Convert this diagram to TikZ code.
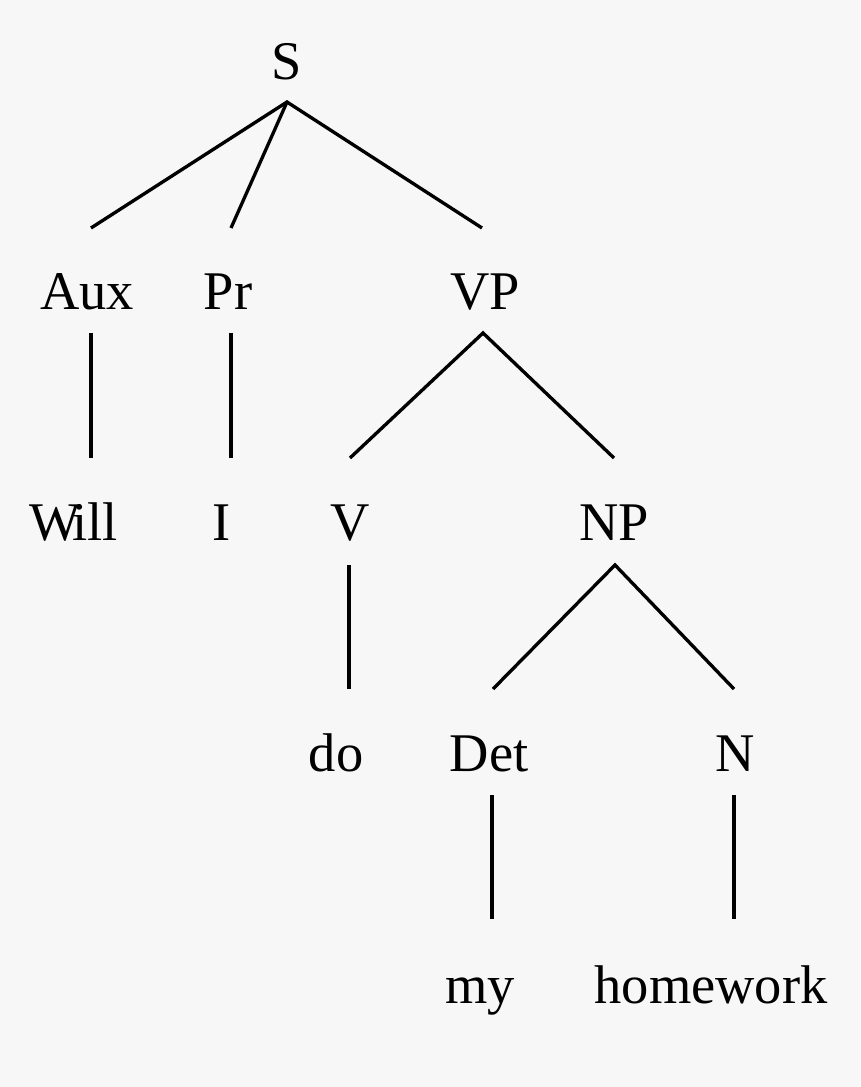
\documentclass[tikz,border=0pt]{standalone}
\usepackage{fontspec}
\setmainfont{Liberation Serif}
\definecolor{bggray}{HTML}{F7F7F7}
\begin{document}
\begin{tikzpicture}[
  x=0.02cm, y=-0.02cm,
  word/.style={inner sep=0pt, font=\fontsize{31}{36}\selectfont, anchor=base},
  branch/.style={line width=1.9pt}
]
\fill[bggray] (0,0) rectangle (860,1087);
\useasboundingbox (0,0) rectangle (860,1087);
% labels
\node[word] (S) at (287,80) {S};
\node[word] (aux) at (87,310) {Aux};
\node[word] (pr) at (228,310) {Pr};
\node[word] (vp) at (485,310) {VP};
\node[word] (will) at (74,540) {W\kern-0.16em ill};
\node[word] (i) at (222,540) {I};
\node[word] (v) at (350,540) {V};
\node[word] (np) at (614,540) {NP};
\node[word] (do) at (336,771) {do};
\node[word] (det) at (489,771) {Det};
\node[word] (n) at (735,771) {N};
\node[word] (my) at (480,1003) {my};
\node[word] (hw) at (711,1003) {homework};
% branch ends
\coordinate (S-b) at (287,102);
\coordinate (aux-t) at (91,228);
\coordinate (pr-t) at (231,228);
\coordinate (vp-t) at (482,228);
\coordinate (aux-b) at (91,333);
\coordinate (will-t) at (91,458);
\coordinate (pr-b) at (231,333);
\coordinate (i-t) at (231,458);
\coordinate (vp-b) at (483,333);
\coordinate (v-t) at (350,458);
\coordinate (np-t) at (614,458);
\coordinate (v-b) at (349,565);
\coordinate (do-t) at (349,689);
\coordinate (np-b) at (615,565);
\coordinate (det-t) at (493,689);
\coordinate (n-t) at (734,689);
\coordinate (det-b) at (492,795);
\coordinate (my-t) at (492,919);
\coordinate (n-b) at (734,795);
\coordinate (hw-t) at (734,919);
% branches
\draw[branch] (aux-t) -- (S-b) -- (vp-t);
\draw[branch] (S-b) -- (pr-t);
\draw[branch] (aux-b) -- (will-t);
\draw[branch] (pr-b) -- (i-t);
\draw[branch] (v-t) -- (vp-b) -- (np-t);
\draw[branch] (v-b) -- (do-t);
\draw[branch] (det-t) -- (np-b) -- (n-t);
\draw[branch] (det-b) -- (my-t);
\draw[branch] (n-b) -- (hw-t);
\end{tikzpicture}
\end{document}
